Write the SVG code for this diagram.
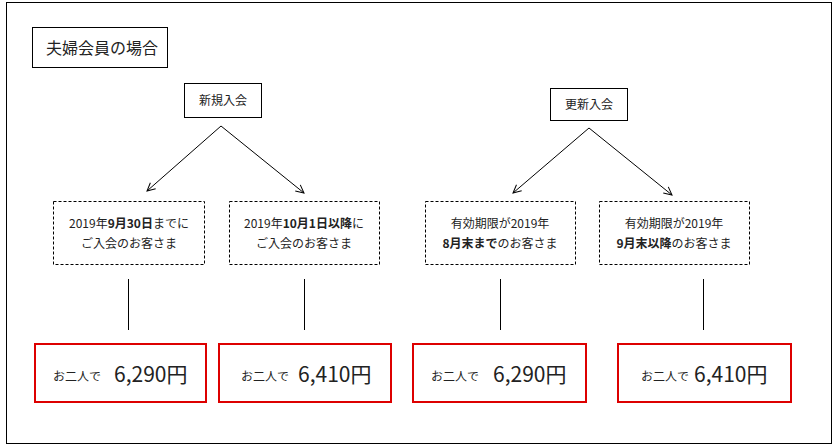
<svg xmlns="http://www.w3.org/2000/svg" width="834" height="446" viewBox="0 0 834 446">
<style>
text{font-family:"Noto Sans CJK JP","Liberation Sans",sans-serif;fill:#222}
.s{fill:#fff;stroke:#000;stroke-width:1}
.d{fill:#fff;stroke:#000;stroke-width:1;stroke-dasharray:3,2}
.r{fill:#fff;stroke:#d00;stroke-width:2}
.c{stroke:#000;stroke-width:1;fill:none}
.t{font-size:12px;text-anchor:middle}
.b{font-weight:bold}
.sm{font-size:12px}
.p{font-size:21px}
</style>
<defs><marker id="a" markerWidth="10" markerHeight="10" refX="9" refY="5" orient="auto" markerUnits="userSpaceOnUse"><path d="M1,1 L9,5 L1,9" fill="none" stroke="#000"/></marker></defs>
<rect x="6.5" y="2.5" width="825" height="441" fill="#fff" stroke="#000"/>
<g id="title"><rect class="s" x="32.5" y="27.5" width="135" height="40"/><text x="46" y="54" font-size="16">夫婦会員の場合</text></g>
<g id="n1"><rect class="s" x="184.5" y="83.5" width="77" height="34"/><text class="t" x="223" y="105">新規入会</text></g>
<g id="n2"><rect class="s" x="550.5" y="88.5" width="77" height="32"/><text class="t" x="589" y="109">更新入会</text></g>
<g id="d1"><rect class="d" x="53.5" y="201.5" width="151" height="63"/><text class="t" x="129" y="228">2019年<tspan class="b">9月30日</tspan>までに</text><text class="t" x="129" y="248">ご入会のお客さま</text></g>
<g id="d2"><rect class="d" x="229.5" y="201.5" width="150" height="63"/><text class="t" x="304" y="228">2019年<tspan class="b">10月1日以降</tspan>に</text><text class="t" x="304" y="248">ご入会のお客さま</text></g>
<g id="d3"><rect class="d" x="425.5" y="201.5" width="150" height="63"/><text class="t" x="500" y="228">有効期限が2019年</text><text class="t" x="500" y="248"><tspan class="b">8月末まで</tspan>のお客さま</text></g>
<g id="d4"><rect class="d" x="599.5" y="201.5" width="150" height="63"/><text class="t" x="674" y="228">有効期限が2019年</text><text class="t" x="674" y="248"><tspan class="b">9月末以降</tspan>のお客さま</text></g>
<g id="r1"><rect class="r" x="35" y="344" width="171" height="58"/><text x="53" y="381" class="sm">お二人で</text><text x="114" y="382" class="p">6,290円</text></g>
<g id="r2"><rect class="r" x="219" y="344" width="172" height="58"/><text x="241" y="381" class="sm">お二人で</text><text x="298" y="382" class="p">6,410円</text></g>
<g id="r3"><rect class="r" x="413" y="344" width="173" height="58"/><text x="431" y="381" class="sm">お二人で</text><text x="493" y="382" class="p">6,290円</text></g>
<g id="r4"><rect class="r" x="618" y="344" width="173" height="58"/><text x="641" y="381" class="sm">お二人で</text><text x="694" y="382" class="p">6,410円</text></g>
<g id="connectors">
<path class="c" d="M221,126 L147,191" marker-end="url(#a)"/>
<path class="c" d="M221,126 L304,193" marker-end="url(#a)"/>
<path class="c" d="M589,128 L513,193" marker-end="url(#a)"/>
<path class="c" d="M589,128 L672,195" marker-end="url(#a)"/>
<path class="c" d="M128.5,279 V330 M304.5,279 V330 M500.5,279 V330 M703.5,279 V330"/>
</g>
</svg>
